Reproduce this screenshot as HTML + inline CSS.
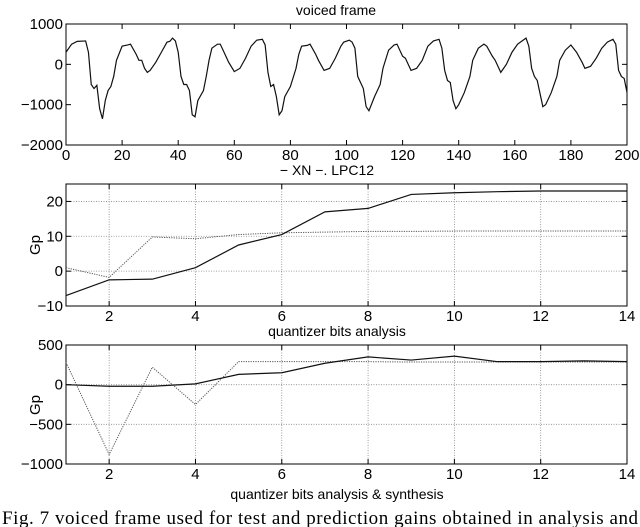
<!DOCTYPE html>
<html><head><meta charset="utf-8"><style>
html,body{margin:0;padding:0;background:#fff;}
svg{display:block;}
text{font-family:"Liberation Sans",Arial,sans-serif;fill:#000;}
</style></head><body>
<svg id="fig" width="640" height="527" viewBox="0 0 640 527" xmlns="http://www.w3.org/2000/svg"></svg>
<script>
// ---- data ----
const waveIdx = [0,2,4,7,8,9,10,11,12,13,14,15,16,17,18,20,22,23,25,26,27,28,29,30,32,34,36,37,38,39,40,41,42,43,44,45,46,47,49,50,51,52,54,55,57,58,60,62,64,66,68,70,71,72,73,74,75,76,77,78,80,82,83,84,86,87,89,90,92,94,96,98,99,101,102,103,104,105,106,107,108,110,112,113,115,117,118,120,121,123,125,127,129,131,133,134,135,136,137,138,139,140,141,142,144,145,147,149,150,152,153,155,156,157,159,161,163,164,165,166,167,168,170,171,173,175,176,178,180,182,184,185,187,189,191,193,195,196,197,198,199,200];
const waveAmp = [300,500,570,580,300,-500,-600,-520,-1100,-1350,-900,-650,-550,-300,100,450,480,500,250,100,100,-100,-200,-150,50,300,550,570,650,580,300,-300,-500,-500,-650,-1250,-1300,-900,-650,-300,100,400,500,500,200,50,-180,-100,150,450,600,620,480,-200,-550,-500,-800,-1250,-1150,-800,-550,-100,250,450,470,500,250,100,-150,-100,150,450,550,600,550,400,-300,-450,-600,-1050,-1150,-800,-500,-100,350,480,500,200,150,-150,-100,100,450,580,620,400,-150,-400,-450,-900,-1100,-1000,-850,-700,-300,100,400,500,450,200,100,-200,-100,0,300,500,600,650,450,-100,-300,-400,-1050,-1000,-700,-300,100,350,480,300,50,-100,-50,150,400,550,620,500,-150,-300,-350,-700];
const bits = [1,2,3,4,5,6,7,8,9,10,11,12,13,14];
const gpAnaXN = [-7,-2.5,-2.3,1,7.5,10.5,17,18,22,22.5,22.8,23,23,23];
const gpAnaLPC = [1,-1.8,9.8,9.3,10.5,11,11.2,11.4,11.4,11.5,11.5,11.5,11.5,11.5];
const gpSynXN = [0,-20,-20,10,130,150,270,350,310,360,290,290,300,290];
const gpSynLPC = [280,-880,220,-250,290,290,290,290,285,285,285,285,285,285];
const waveXTicks = [0,20,40,60,80,100,120,140,160,180,200];
const waveYTicks = [1000,0,-1000,-2000];
const bitTicks = [2,4,6,8,10,12,14];
const anaYTicks = [20,10,0,-10];
const synYTicks = [500,0,-500,-1000];

const NS="http://www.w3.org/2000/svg";
const svg=document.getElementById('fig');
function el(tag,attrs,parent){const e=document.createElementNS(NS,tag);for(const k in attrs)e.setAttribute(k,attrs[k]);(parent||svg).appendChild(e);return e;}
function txt(s,x,y,size,anchor,parent,extra){const t=el('text',Object.assign({x:x,y:y,'font-size':size,'text-anchor':anchor||'middle'},extra||{}),parent);t.textContent=s;return t;}

function axes(name,L,R,T,B,xmin,xmax,ymin,ymax,xt,yt,grid){
  const g=el('g',{});
  
  
  const sx=v=>L+(v-xmin)/(xmax-xmin)*(R-L);
  const sy=v=>B-(v-ymin)/(ymax-ymin)*(B-T);
  xt.forEach(v=>{
    const x=sx(v);
    if(grid){const l=el('line',{x1:x,x2:x,y1:T,y2:B,stroke:'#888','stroke-width':0.8,'stroke-dasharray':'1,1.5'},g);}
    el('line',{x1:x,x2:x,y1:B,y2:B-5,stroke:'#000','stroke-width':1},g);
    el('line',{x1:x,x2:x,y1:T,y2:T+5,stroke:'#000','stroke-width':1},g);
    const t=txt(String(v),x,B+15,15,'middle',g);
    
    
  });
  yt.forEach(v=>{
    const y=sy(v);
    if(grid){const l=el('line',{x1:L,x2:R,y1:y,y2:y,stroke:'#888','stroke-width':0.8,'stroke-dasharray':'1,1.5'},g);}
    el('line',{x1:L,x2:L+5,y1:y,y2:y,stroke:'#000','stroke-width':1},g);
    el('line',{x1:R,x2:R-5,y1:y,y2:y,stroke:'#000','stroke-width':1},g);
    const t=txt(String(v).replace('-','\u2212'),L-3,y+5,15,'end',g);
    
    
  });
  const r=el('rect',{x:L,y:T,width:R-L,height:B-T,fill:'none',stroke:'#000','stroke-width':1},g);
  
  
  return {g,sx,sy};
}
function line(ax,xs,ys,name,dotted){
  const p=el('polyline',{points:xs.map((x,i)=>ax.sx(x)+','+ax.sy(ys[i])).join(' '),fill:'none',stroke:dotted?'#555':'#111','stroke-width':dotted?1:1.2,'stroke-dasharray':dotted?'1.2,1.2':'none'},ax.g);
  
  
}

// Plot 1
const a1=axes('voiced-frame-plot',66,627,24,145,0,200,-2000,1000,waveXTicks,waveYTicks,false);
line(a1,waveIdx,waveAmp,'waveform-line',false);
let t=txt('voiced frame',336,15,14,'middle');


t=txt('\u2212 XN \u2212. LPC12',327,175,14,'middle');



// Plot 2
const a2=axes('analysis-gain-plot',66,627,184,306,1,14,-10,25,bitTicks,anaYTicks,true);
line(a2,bits,gpAnaLPC,'analysis-lpc12-line',true);
line(a2,bits,gpAnaXN,'analysis-xn-line',false);
t=txt('quantizer bits analysis',337,336,14,'middle');


t=txt('Gp',0,0,15,'middle',svg,{transform:'translate(40,245) rotate(-90)'});



// Plot 3
const a3=axes('synthesis-gain-plot',66,627,345,464,1,14,-1000,500,bitTicks,synYTicks,true);
line(a3,bits,gpSynLPC,'synthesis-lpc12-line',true);
line(a3,bits,gpSynXN,'synthesis-xn-line',false);
t=txt('quantizer bits analysis & synthesis',337,499,14,'middle');


t=txt('Gp',0,0,15,'middle',svg,{transform:'translate(40,405) rotate(-90)'});



// caption
t=el('text',{x:2,y:524,'font-size':19,'text-anchor':'start',textLength:636,lengthAdjust:'spacing',style:'font-family:"Liberation Serif","Times New Roman",serif'});
t.textContent='Fig. 7 voiced frame used for test and prediction gains obtained in analysis and';


</script>
</body></html>
